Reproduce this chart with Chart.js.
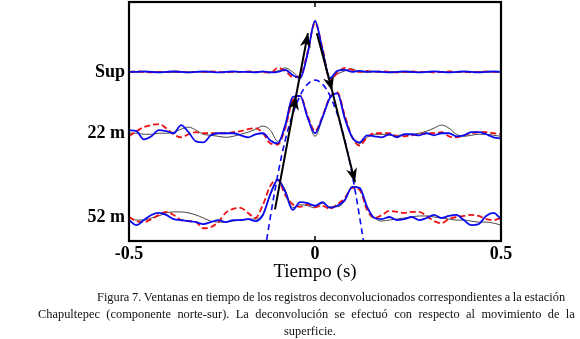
<!DOCTYPE html>
<html>
<head>
<meta charset="utf-8">
<title>Figura 7</title>
<script src="https://cdn.jsdelivr.net/npm/chart.js@4.4.1/dist/chart.umd.min.js"></script>
<style>
	body { margin: 0; background: #fff; }
	#wrap { position: relative; width: 580px; height: 339px; overflow: hidden; }
	#chart { position: absolute; left: 0; top: 0; }
	.caption { position: absolute; font-family: "Liberation Serif", "Times New Roman", serif; font-size: 12.4px; line-height: 17px; color: #111; white-space: nowrap; }
</style>
</head>
<body>
<div id="wrap">
	<canvas id="chart" width="580" height="290"></canvas>
	<div class="caption" style="left:97px; top:289px; word-spacing:-0.4px;">Figura 7. Ventanas en tiempo de los registros deconvolucionados correspondientes a la estación</div>
	<div class="caption" style="left:38px; top:306px; word-spacing:3.3px;">Chapultepec (componente norte-sur). La deconvolución se efectuó con respecto al movimiento de la</div>
	<div class="caption" style="left:284px; top:323px;">superficie.</div>
</div>
<script>
// time axis (s)
var timeS = [-0.5, -0.48, -0.46, -0.44, -0.42, -0.4, -0.38, -0.36, -0.34, -0.32,
	-0.3, -0.28, -0.26, -0.24, -0.22, -0.2, -0.18, -0.16, -0.14, -0.12,
	-0.1, -0.08, -0.06, -0.04, -0.02, 0, 0.02, 0.04, 0.06, 0.08,
	0.1, 0.12, 0.14, 0.16, 0.18, 0.2, 0.22, 0.24, 0.26, 0.28,
	0.3, 0.32, 0.34, 0.36, 0.38, 0.4, 0.42, 0.44, 0.46, 0.48, 0.5];

var traceLabels = ["Sup", "22 m", "52 m"];
var traceOffsets = [0, -1.2, -2.84];
var xTickLabels = ["-0.5", "0", "0.5"];

// Sup
var supBlack = [0, 0, 0, 0.01, 0, 0, -0.01, 0, 0, 0.01, 0, 0, -0.01, 0, 0, 0.01, 0, 0,
	0, 0, 0.02, 0.08, 0, -0.1, 0.35, 0.98, 0.45, -0.14, -0.04, 0.02, 0.06, 0, 0, 0,
	0, 0.01, 0, 0, -0.01, 0, 0, 0.01, 0, 0, -0.01, 0, 0, 0.01, 0, 0, 0];
var supRed = [0, 0.01, 0, -0.01, 0, 0, 0.01, 0, -0.01, 0, 0, 0.01, 0, -0.01, 0, 0, 0.01, 0,
	0, -0.02, 0.08, 0.02, -0.1, -0.08, 0.39, 0.96, 0.47, -0.16, -0.02, 0.08, 0.04, 0, 0.02, 0,
	0.01, 0, -0.01, 0, 0.01, 0, 0, -0.01, 0, 0.01, 0, 0, -0.01, 0, 0.01, 0, 0];
var supBlue = [0, 0, 0.01, 0, -0.01, 0, 0.01, 0, -0.01, 0, 0.01, 0, -0.01, 0, 0.01, 0, 0, -0.01,
	0.01, -0.01, 0, 0.04, -0.06, -0.12, 0.35, 1.0, 0.43, -0.12, 0.02, 0.04, 0, 0.02, 0, 0.01,
	0, -0.01, 0, 0.01, 0, -0.01, 0, 0.01, 0, -0.01, 0, 0.01, 0, -0.01, 0, 0.01, 0];

// 22 m
var m22Black = [0, 0, -0.02, -0.02, 0, 0, 0.02, 0.08, 0.12, 0.06,
	-0.02, -0.04, -0.06, -0.08, -0.06, -0.02, 0.02, 0.08, 0.14, 0.06,
	-0.16, 0.12, 0.65, 0.73, 0.31, -0.06, 0.29, 0.69, 0.78, 0.33,
	-0.08, -0.2, -0.08, -0.02, -0.02, -0.04, -0.04, -0.04, -0.02, 0,
	0.04, 0.1, 0.16, 0.1, -0.02, -0.06, -0.04, -0.02, -0.02, -0.04, -0.06];
var m22Red = [-0.06, 0.04, 0.12, 0.16, 0.18, 0.1, -0.02, -0.08, -0.02, 0.02,
	0, 0, 0, 0, 0.02, 0.04, 0.08, 0.1, 0, -0.2,
	-0.22, 0.1, 0.65, 0.73, 0.35, 0.04, 0.33, 0.71, 0.8, 0.35,
	-0.08, -0.24, -0.08, 0, 0, 0, -0.06, -0.06, -0.04, -0.02,
	0, 0, 0.02, -0.06, -0.08, -0.04, 0, 0.02, 0.02, 0, -0.02];
var m22Blue = [0.06, 0.04, -0.12, -0.06, 0.06, 0.04, 0, 0.16, 0.02, -0.16,
	-0.18, -0.04, 0, 0, 0, -0.04, -0.08, -0.02, 0, -0.14,
	-0.2, 0.16, 0.71, 0.73, 0.31, 0, 0.31, 0.69, 0.78, 0.29,
	-0.08, -0.18, -0.04, -0.06, -0.08, -0.02, -0.08, -0.02, -0.02, -0.04,
	0, -0.04, 0, 0, -0.06, -0.04, 0.02, 0.02, -0.02, -0.08, -0.1];

// 52 m
var m52Black = [0, -0.06, -0.06, -0.02, 0.02, 0.08, 0.1, 0.1, 0.08, 0.04,
	-0.02, -0.08, -0.1, -0.1, -0.08, -0.06, -0.04, -0.04, 0.06, 0.43,
	0.71, 0.53, 0.18, 0.24, 0.22, 0.18, 0.27, 0.2, 0.2, 0.31,
	0.59, 0.55, 0.18, -0.02, -0.08, -0.06, -0.04, -0.02, 0, 0.02,
	0.02, 0, -0.02, -0.04, -0.06, -0.06, -0.08, -0.1, -0.1, -0.12, -0.16];
var m52Red = [0, -0.08, -0.1, -0.04, 0.04, 0.1, 0.04, -0.06, -0.08, -0.1,
	-0.22, -0.2, -0.1, 0.08, 0.16, 0.18, 0.08, -0.02, 0.24, 0.61,
	0.73, 0.43, 0.25, 0.2, 0.25, 0.2, 0.22, 0.16, 0.25, 0.37,
	0.57, 0.53, 0.14, -0.02, 0.04, 0.12, 0.1, 0.08, 0.1, 0.1,
	0.02, -0.08, -0.12, -0.04, 0, 0.02, 0.04, 0.02, -0.04, -0.06, -0.02];
var m52Blue = [-0.06, -0.16, -0.06, 0.04, 0.08, 0.04, -0.04, -0.06, -0.08, -0.1,
	-0.14, -0.1, -0.06, -0.1, -0.06, -0.06, -0.04, -0.08, 0.04, 0.45,
	0.73, 0.49, 0.14, 0.29, 0.27, 0.22, 0.29, 0.18, 0.22, 0.33,
	0.59, 0.57, 0.2, -0.02, -0.04, 0, -0.06, -0.04, 0, -0.06,
	-0.02, 0.04, -0.02, 0.02, 0.04, -0.06, -0.16, -0.14, 0.02, 0.08, -0.04];

// blue dashed envelope
var envT = [-0.13, -0.11, -0.09, -0.07, -0.05, -0.03, -0.01, 0, 0.01, 0.03, 0.05, 0.07, 0.09, 0.11, 0.13];
var envY = [-3.29, -2.41, -1.65, -1.06, -0.63, -0.33, -0.18, -0.16, -0.18, -0.33, -0.63, -1.06, -1.65, -2.41, -3.29];

// arrows (up-going and down-going)
var upT = [-0.1075, -0.051, -0.019];
var upY = [-2.69, -0.47, 0.76];
var downT = [0.005, 0.046, 0.1075];
var downY = [0.76, -0.37, -2.16];

function toPoints(xs, ys, off) {
	return xs.map(function(t, i) { return { x: t, y: ys[i] + off }; });
}

var traces = [
	[supBlack, supRed, supBlue],
	[m22Black, m22Red, m22Blue],
	[m52Black, m52Red, m52Blue]
];

var datasets = [];
traces.forEach(function(tr, k) {
	var off = traceOffsets[k];
	datasets.push({ data: toPoints(timeS, tr[0], off), borderColor: "#333", borderWidth: 0.9, order: 4 });
	datasets.push({ data: toPoints(timeS, tr[1], off), borderColor: "#ee1111", borderWidth: 1.8, borderDash: [6, 3], order: 3 });
	datasets.push({ data: toPoints(timeS, tr[2], off), borderColor: "#0a0af0", borderWidth: 1.8, order: 2 });
});
datasets.push({ data: toPoints(envT, envY, 0), borderColor: "#0a0af0", borderWidth: 1.6, borderDash: [6, 4], order: 1 });
datasets.push({ data: toPoints(upT, upY, 0), borderColor: "#000", borderWidth: 2, tension: 0, arrowHeads: true, order: 0 });
datasets.push({ data: toPoints(downT, downY, 0), borderColor: "#000", borderWidth: 2, tension: 0, arrowHeads: true, order: 0 });

var arrowPlugin = {
	id: "arrowHeads",
	afterDatasetsDraw: function(chart) {
		var ctx = chart.ctx;
		chart.data.datasets.forEach(function(ds, di) {
			if (!ds.arrowHeads) return;
			var pts = chart.getDatasetMeta(di).data;
			for (var i = 1; i < pts.length; i++) {
				var ang = Math.atan2(pts[i].y - pts[i - 1].y, pts[i].x - pts[i - 1].x);
				ctx.save();
				ctx.translate(pts[i].x, pts[i].y);
				ctx.rotate(ang);
				ctx.beginPath();
				ctx.moveTo(0, 0);
				ctx.lineTo(-14, -5.5);
				ctx.lineTo(-10, 0);
				ctx.lineTo(-14, 5.5);
				ctx.closePath();
				ctx.fillStyle = "#000";
				ctx.fill();
				ctx.restore();
			}
		});
	}
};

var framePlugin = {
	id: "frame",
	afterDatasetsDraw: function(chart) {
		var ctx = chart.ctx, a = chart.chartArea, xs = chart.scales.x;
		ctx.save();
		ctx.strokeStyle = "#000";
		ctx.lineWidth = 1.5;
		xs.ticks.forEach(function(t) {
			var px = xs.getPixelForValue(t.value);
			ctx.beginPath();
			ctx.moveTo(px, a.top); ctx.lineTo(px, a.top + 5);
			ctx.moveTo(px, a.bottom); ctx.lineTo(px, a.bottom - 5);
			ctx.stroke();
		});
		ctx.lineWidth = 2.2;
		ctx.strokeRect(a.left, a.top, a.right - a.left, a.bottom - a.top);
		ctx.restore();
	}
};

var serif = "'Liberation Serif', 'Times New Roman', serif";

new Chart(document.getElementById("chart"), {
	type: "line",
	data: { datasets: datasets },
	options: {
		responsive: false,
		animation: false,
		events: [],
		layout: { padding: { top: 2, right: 79, bottom: 0, left: 0 } },
		elements: {
			point: { radius: 0 },
			line: { cubicInterpolationMode: "monotone", fill: false }
		},
		plugins: {
			legend: { display: false },
			tooltip: { enabled: false }
		},
		scales: {
			x: {
				type: "linear",
				min: -0.5,
				max: 0.5,
				grid: { display: false, drawTicks: false },
				border: { display: false },
				ticks: {
					stepSize: 0.5,
					padding: 3,
					color: "#000",
					font: { family: serif, weight: "bold", size: 18 },
					callback: function(v, i) { return xTickLabels[i]; }
				},
				title: {
					display: true,
					text: "Tiempo (s)",
					color: "#000",
					font: { family: serif, size: 19 },
					padding: { top: 0, bottom: 7 }
				},
				afterFit: function(s) { s.height = 49; }
			},
			y: {
				type: "linear",
				min: -3.31,
				max: 1.37,
				grid: { display: false, drawTicks: false },
				border: { display: false },
				afterBuildTicks: function(s) {
					s.ticks = traceOffsets.map(function(v) { return { value: v }; });
				},
				ticks: {
					autoSkip: false,
					padding: 4,
					color: "#000",
					font: { family: serif, weight: "bold", size: 18 },
					callback: function(v, i) { return traceLabels[i]; }
				},
				afterFit: function(s) {
					s.width = 129;
					s.paddingTop = 0;
					s.paddingBottom = 0;
				}
			}
		}
	},
	plugins: [arrowPlugin, framePlugin]
});
</script>
</body>
</html>
